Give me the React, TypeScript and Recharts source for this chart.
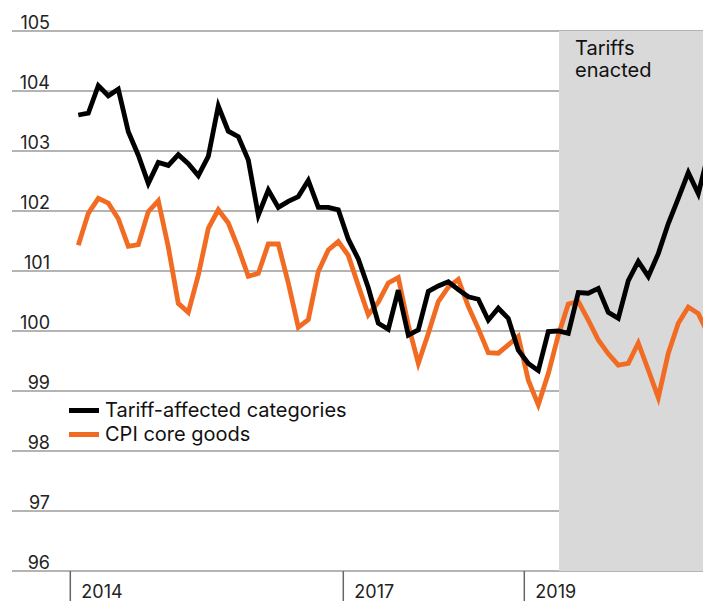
import { CartesianGrid, Legend, Line, LineChart, ReferenceArea, XAxis, YAxis } from "recharts";

// index levels, one reading per period (period 0 = first point on the left)
const tariffAffected = [
  103.6, 103.63, 104.09, 103.92, 104.03, 103.32, 102.93, 102.46, 102.81, 102.76,
  102.94, 102.79, 102.59, 102.91, 103.75, 103.33, 103.24, 102.85, 101.93, 102.35,
  102.06, 102.16, 102.24, 102.51, 102.06, 102.06, 102.02, 101.53, 101.2, 100.72,
  100.13, 100.03, 100.68, 99.93, 100.02, 100.66, 100.75, 100.82, 100.69, 100.57,
  100.53, 100.18, 100.38, 100.21, 99.68, 99.46, 99.34, 99.99, 100.0, 99.96,
  100.64, 100.63, 100.71, 100.31, 100.21, 100.84, 101.16, 100.91, 101.29, 101.79,
  102.21, 102.64, 102.29, 102.95,
];
const cpiCoreGoods = [
  101.43, 101.96, 102.21, 102.13, 101.87, 101.41, 101.44, 101.99, 102.17, 101.4,
  100.46, 100.31, 100.93, 101.71, 102.02, 101.8, 101.38, 100.91, 100.96, 101.45,
  101.45, 100.8, 100.06, 100.19, 100.99, 101.35, 101.49, 101.26, 100.76, 100.27,
  100.48, 100.8, 100.89, 100.1, 99.46, 99.96, 100.49, 100.73, 100.86, 100.41,
  100.04, 99.64, 99.63, 99.77, 99.91, 99.18, 98.77, 99.29, 99.93, 100.45,
  100.49, 100.18, 99.85, 99.62, 99.43, 99.46, 99.8, 99.35, 98.89, 99.63,
  100.13, 100.4, 100.29, 99.95,
];

const yTicks = [96, 97, 98, 99, 100, 101, 102, 103, 104, 105];
const yearTicks = [-0.8, 26.5, 44.6];
const yearLabels = ["2014", "2017", "2019"];
const tariffStart = 48.07;
const xDomain: [number, number] = [-6.63, 62.47];

const BLACK = "#000000";
const ORANGE = "#f26b22";
const FONT = "Inter, 'Noto Sans', sans-serif";

const data = tariffAffected.map((v, i) => ({
  period: i,
  tariff: v,
  core: cpiCoreGoods[i],
}));

function YTick({ y, payload }: any) {
  return (
    <text x={50} y={y - 2} textAnchor="end" fontSize={18} fill="#222" fontFamily={FONT}>
      {payload.value}
    </text>
  );
}

function YearTick({ x, y, payload, index }: any) {
  const top = y - 8;
  return (
    <g>
      <line x1={x} x2={x} y1={top} y2={top + 32} stroke="#666" strokeWidth={1.5} />
      <text x={x + 11} y={top + 27} fontSize={18} fill="#222" fontFamily={FONT}>
        {yearLabels[index] ?? payload.value}
      </text>
    </g>
  );
}

function TariffLabel({ viewBox }: any) {
  if (!viewBox) return null;
  const x = viewBox.x + 16;
  return (
    <g fontSize={20} fill="#111" fontFamily={FONT}>
      <text x={x} y={viewBox.y + 24}>Tariffs</text>
      <text x={x} y={viewBox.y + 46}>enacted</text>
    </g>
  );
}

function LegendBox() {
  const rows = [
    { name: "Tariff-affected categories", color: BLACK },
    { name: "CPI core goods", color: ORANGE },
  ];
  return (
    <div style={{ fontFamily: FONT }}>
      {rows.map((r) => (
        <div key={r.name} style={{ display: "flex", alignItems: "center", height: 24 }}>
          <span style={{ display: "inline-block", width: 30, height: 5, background: r.color }} />
          <span style={{ marginLeft: 6, fontSize: 20, color: "#111", lineHeight: "24px" }}>{r.name}</span>
        </div>
      ))}
    </div>
  );
}

export default function App() {
  return (
    <div style={{ position: "absolute", left: 0, top: 0, width: 703, height: 601, overflow: "hidden", background: "#fff" }}>
      <LineChart width={703} height={601} data={data} margin={{ top: 31, right: 0, bottom: 0, left: 0 }}>
        <ReferenceArea
          x1={tariffStart}
          x2={xDomain[1]}
          y1={96}
          y2={105}
          fill="#d9d9d9"
          fillOpacity={1}
          stroke="none"
          ifOverflow="hidden"
          label={(props: any) => <TariffLabel viewBox={props.viewBox} />}
        />
        <CartesianGrid vertical={false} stroke="#9b9b9b" strokeWidth={1.5} />
        <XAxis
          type="number"
          dataKey="period"
          domain={xDomain}
          allowDataOverflow
          ticks={yearTicks}
          interval={0}
          tick={<YearTick />}
          tickLine={false}
          axisLine={false}
          height={30}
        />
        <YAxis
          domain={[96, 105]}
          ticks={yTicks}
          interval={0}
          width={12}
          tick={<YTick />}
          tickLine={false}
          axisLine={false}
        />
        <Legend
          layout="vertical"
          verticalAlign="middle"
          align="center"
          content={<LegendBox />}
          wrapperStyle={{ left: 69, top: 398, width: "auto" }}
        />
        <Line
          type="linear"
          dataKey="core"
          name="CPI core goods"
          stroke={ORANGE}
          strokeWidth={4.8}
          dot={false}
          isAnimationActive={false}
        />
        <Line
          type="linear"
          dataKey="tariff"
          name="Tariff-affected categories"
          stroke={BLACK}
          strokeWidth={4.8}
          dot={false}
          isAnimationActive={false}
        />
      </LineChart>
    </div>
  );
}
